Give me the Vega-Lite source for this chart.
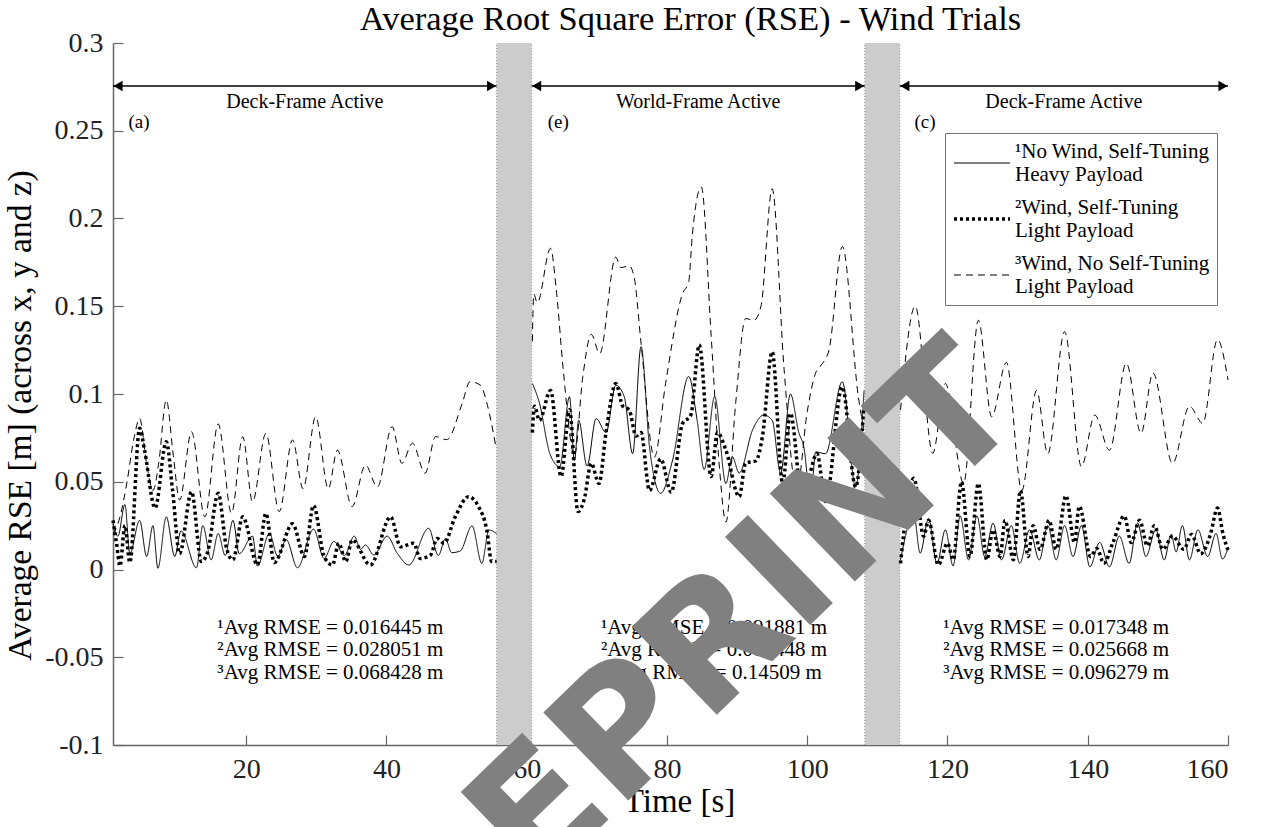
{
  "$schema": "https://vega.github.io/schema/vega-lite/v6.json",
  "width": 1115,
  "height": 702,
  "autosize": {"type": "none"},
  "padding": {"left": 113, "top": 43, "right": 38, "bottom": 82},
  "background": "white",
  "title": {"text": "Average Root Square Error (RSE) - Wind Trials", "font": "Liberation Serif", "fontSize": 34.5, "fontWeight": "normal", "color": "#000", "offset": 0, "dy": 8, "dx": 20},
  "config": {
    "view": {"stroke": null},
    "axis": {"labelFont": "Liberation Serif", "titleFont": "Liberation Serif", "labelFontSize": 28, "titleFontSize": 33, "titleFontWeight": "normal", "labelColor": "#222", "titleColor": "#000", "domainColor": "#666", "tickColor": "#666", "grid": false, "tickSize": -10, "domainWidth": 1.5, "tickWidth": 1.2}
  },
  "datasets": {
    "series": [
      {"t":1.0,"v":0.026,"s":"s1","seg":"a"},{"t":1.7,"v":0.019,"s":"s1","seg":"a"},{"t":2.7,"v":0.037,"s":"s1","seg":"a"},{"t":3.4,"v":0.009,"s":"s1","seg":"a"},{"t":4.8,"v":0.028,"s":"s1","seg":"a"},{"t":5.8,"v":0.0074,"s":"s1","seg":"a"},{"t":6.7,"v":0.025,"s":"s1","seg":"a"},{"t":7.4,"v":0.0007,"s":"s1","seg":"a"},{"t":8.6,"v":0.030,"s":"s1","seg":"a"},{"t":9.8,"v":0.0074,"s":"s1","seg":"a"},{"t":10.7,"v":0.022,"s":"s1","seg":"a"},{"t":12.9,"v":0.001,"s":"s1","seg":"a"},{"t":13.8,"v":0.025,"s":"s1","seg":"a"},{"t":15.0,"v":0.0055,"s":"s1","seg":"a"},{"t":16.0,"v":0.0205,"s":"s1","seg":"a"},{"t":17.0,"v":0.008,"s":"s1","seg":"a"},{"t":18.1,"v":0.028,"s":"s1","seg":"a"},{"t":19.0,"v":0.009,"s":"s1","seg":"a"},{"t":20.9,"v":0.019,"s":"s1","seg":"a"},{"t":21.6,"v":0.002,"s":"s1","seg":"a"},{"t":23.3,"v":0.0205,"s":"s1","seg":"a"},{"t":24.5,"v":0.0074,"s":"s1","seg":"a"},{"t":25.7,"v":0.017,"s":"s1","seg":"a"},{"t":27.3,"v":0.001,"s":"s1","seg":"a"},{"t":29.6,"v":0.023,"s":"s1","seg":"a"},{"t":31.1,"v":0.0063,"s":"s1","seg":"a"},{"t":32.5,"v":0.016,"s":"s1","seg":"a"},{"t":34.0,"v":0.008,"s":"s1","seg":"a"},{"t":35.4,"v":0.019,"s":"s1","seg":"a"},{"t":36.3,"v":0.0115,"s":"s1","seg":"a"},{"t":37.0,"v":0.014,"s":"s1","seg":"a"},{"t":38.2,"v":0.0083,"s":"s1","seg":"a"},{"t":40.1,"v":0.019,"s":"s1","seg":"a"},{"t":41.5,"v":0.0095,"s":"s1","seg":"a"},{"t":43.2,"v":0.0026,"s":"s1","seg":"a"},{"t":46.0,"v":0.0235,"s":"s1","seg":"a"},{"t":47.4,"v":0.008,"s":"s1","seg":"a"},{"t":48.4,"v":0.0176,"s":"s1","seg":"a"},{"t":49.3,"v":0.0096,"s":"s1","seg":"a"},{"t":50.5,"v":0.0105,"s":"s1","seg":"a"},{"t":52.2,"v":0.0248,"s":"s1","seg":"a"},{"t":53.6,"v":0.0035,"s":"s1","seg":"a"},{"t":54.6,"v":0.0225,"s":"s1","seg":"a"},{"t":55.7,"v":0.0205,"s":"s1","seg":"a"},
      {"t":60.8,"v":0.106,"s":"s1","seg":"b"},{"t":61.8,"v":0.095,"s":"s1","seg":"b"},{"t":63.3,"v":0.066,"s":"s1","seg":"b"},{"t":64.7,"v":0.0586,"s":"s1","seg":"b"},{"t":66.1,"v":0.0985,"s":"s1","seg":"b"},{"t":66.8,"v":0.062,"s":"s1","seg":"b"},{"t":67.4,"v":0.085,"s":"s1","seg":"b"},{"t":68.6,"v":0.059,"s":"s1","seg":"b"},{"t":69.9,"v":0.086,"s":"s1","seg":"b"},{"t":71.3,"v":0.078,"s":"s1","seg":"b"},{"t":72.7,"v":0.105,"s":"s1","seg":"b"},{"t":73.9,"v":0.0985,"s":"s1","seg":"b"},{"t":75.1,"v":0.066,"s":"s1","seg":"b"},{"t":76.3,"v":0.127,"s":"s1","seg":"b"},{"t":77.5,"v":0.070,"s":"s1","seg":"b"},{"t":79.1,"v":0.0434,"s":"s1","seg":"b"},{"t":80.8,"v":0.0624,"s":"s1","seg":"b"},{"t":83.1,"v":0.110,"s":"s1","seg":"b"},{"t":84.3,"v":0.085,"s":"s1","seg":"b"},{"t":85.3,"v":0.057,"s":"s1","seg":"b"},{"t":86.8,"v":0.0985,"s":"s1","seg":"b"},{"t":88.4,"v":0.049,"s":"s1","seg":"b"},{"t":89.3,"v":0.0643,"s":"s1","seg":"b"},{"t":90.3,"v":0.055,"s":"s1","seg":"b"},{"t":92.2,"v":0.0795,"s":"s1","seg":"b"},{"t":93.8,"v":0.088,"s":"s1","seg":"b"},{"t":95.0,"v":0.085,"s":"s1","seg":"b"},{"t":96.2,"v":0.055,"s":"s1","seg":"b"},{"t":97.6,"v":0.100,"s":"s1","seg":"b"},{"t":98.8,"v":0.078,"s":"s1","seg":"b"},{"t":99.5,"v":0.070,"s":"s1","seg":"b"},{"t":100.5,"v":0.0405,"s":"s1","seg":"b"},{"t":101.2,"v":0.067,"s":"s1","seg":"b"},{"t":102.6,"v":0.066,"s":"s1","seg":"b"},{"t":105.0,"v":0.107,"s":"s1","seg":"b"},{"t":106.9,"v":0.047,"s":"s1","seg":"b"},{"t":108.1,"v":0.102,"s":"s1","seg":"b"},
      {"t":113.3,"v":0.0055,"s":"s1","seg":"c"},{"t":115.2,"v":0.031,"s":"s1","seg":"c"},{"t":116.1,"v":0.0093,"s":"s1","seg":"c"},{"t":117.3,"v":0.029,"s":"s1","seg":"c"},{"t":118.5,"v":0.0035,"s":"s1","seg":"c"},{"t":119.7,"v":0.0226,"s":"s1","seg":"c"},{"t":120.8,"v":0.002,"s":"s1","seg":"c"},{"t":121.8,"v":0.0305,"s":"s1","seg":"c"},{"t":123.0,"v":0.0055,"s":"s1","seg":"c"},{"t":124.2,"v":0.0305,"s":"s1","seg":"c"},{"t":125.3,"v":0.0074,"s":"s1","seg":"c"},{"t":126.5,"v":0.0264,"s":"s1","seg":"c"},{"t":127.7,"v":0.0055,"s":"s1","seg":"c"},{"t":129.1,"v":0.025,"s":"s1","seg":"c"},{"t":130.3,"v":0.0035,"s":"s1","seg":"c"},{"t":131.7,"v":0.0226,"s":"s1","seg":"c"},{"t":133.1,"v":0.0055,"s":"s1","seg":"c"},{"t":134.3,"v":0.025,"s":"s1","seg":"c"},{"t":135.5,"v":0.0055,"s":"s1","seg":"c"},{"t":136.7,"v":0.025,"s":"s1","seg":"c"},{"t":137.9,"v":0.0074,"s":"s1","seg":"c"},{"t":139.1,"v":0.025,"s":"s1","seg":"c"},{"t":140.3,"v":0.0015,"s":"s1","seg":"c"},{"t":141.7,"v":0.0154,"s":"s1","seg":"c"},{"t":143.1,"v":0.0015,"s":"s1","seg":"c"},{"t":144.5,"v":0.019,"s":"s1","seg":"c"},{"t":145.9,"v":0.0035,"s":"s1","seg":"c"},{"t":147.1,"v":0.0264,"s":"s1","seg":"c"},{"t":148.3,"v":0.0074,"s":"s1","seg":"c"},{"t":149.7,"v":0.0226,"s":"s1","seg":"c"},{"t":150.9,"v":0.0055,"s":"s1","seg":"c"},{"t":151.9,"v":0.02,"s":"s1","seg":"c"},{"t":152.6,"v":0.01,"s":"s1","seg":"c"},{"t":153.5,"v":0.025,"s":"s1","seg":"c"},{"t":154.5,"v":0.0055,"s":"s1","seg":"c"},{"t":155.7,"v":0.0226,"s":"s1","seg":"c"},{"t":157.1,"v":0.0074,"s":"s1","seg":"c"},{"t":158.3,"v":0.0205,"s":"s1","seg":"c"},{"t":159.2,"v":0.006,"s":"s1","seg":"c"},{"t":160.0,"v":0.012,"s":"s1","seg":"c"},

      {"t":1.0,"v":0.028,"s":"s2","seg":"a"},{"t":1.5,"v":0.015,"s":"s2","seg":"a"},{"t":2.0,"v":0.002,"s":"s2","seg":"a"},{"t":2.7,"v":0.025,"s":"s2","seg":"a"},{"t":3.4,"v":0.004,"s":"s2","seg":"a"},{"t":4.8,"v":0.0805,"s":"s2","seg":"a"},{"t":5.5,"v":0.068,"s":"s2","seg":"a"},{"t":7.0,"v":0.035,"s":"s2","seg":"a"},{"t":8.6,"v":0.0728,"s":"s2","seg":"a"},{"t":9.5,"v":0.045,"s":"s2","seg":"a"},{"t":10.5,"v":0.009,"s":"s2","seg":"a"},{"t":12.2,"v":0.0443,"s":"s2","seg":"a"},{"t":13.6,"v":0.0045,"s":"s2","seg":"a"},{"t":14.5,"v":0.01,"s":"s2","seg":"a"},{"t":16.0,"v":0.0434,"s":"s2","seg":"a"},{"t":17.2,"v":0.012,"s":"s2","seg":"a"},{"t":18.1,"v":0.0055,"s":"s2","seg":"a"},{"t":19.5,"v":0.030,"s":"s2","seg":"a"},{"t":21.6,"v":0.0026,"s":"s2","seg":"a"},{"t":22.8,"v":0.032,"s":"s2","seg":"a"},{"t":24.0,"v":0.004,"s":"s2","seg":"a"},{"t":26.6,"v":0.026,"s":"s2","seg":"a"},{"t":28.3,"v":0.0074,"s":"s2","seg":"a"},{"t":29.6,"v":0.0365,"s":"s2","seg":"a"},{"t":31.1,"v":0.0074,"s":"s2","seg":"a"},{"t":32.3,"v":0.0026,"s":"s2","seg":"a"},{"t":33.2,"v":0.015,"s":"s2","seg":"a"},{"t":34.2,"v":0.0045,"s":"s2","seg":"a"},{"t":35.1,"v":0.0168,"s":"s2","seg":"a"},{"t":37.7,"v":0.0026,"s":"s2","seg":"a"},{"t":40.6,"v":0.030,"s":"s2","seg":"a"},{"t":42.0,"v":0.013,"s":"s2","seg":"a"},{"t":43.9,"v":0.015,"s":"s2","seg":"a"},{"t":44.8,"v":0.0063,"s":"s2","seg":"a"},{"t":46.3,"v":0.0083,"s":"s2","seg":"a"},{"t":47.2,"v":0.0176,"s":"s2","seg":"a"},{"t":48.2,"v":0.015,"s":"s2","seg":"a"},{"t":49.8,"v":0.030,"s":"s2","seg":"a"},{"t":51.7,"v":0.0415,"s":"s2","seg":"a"},{"t":53.1,"v":0.036,"s":"s2","seg":"a"},{"t":54.3,"v":0.0226,"s":"s2","seg":"a"},{"t":55.0,"v":0.0045,"s":"s2","seg":"a"},{"t":55.7,"v":0.0045,"s":"s2","seg":"a"},
      {"t":60.8,"v":0.078,"s":"s2","seg":"b"},{"t":61.1,"v":0.093,"s":"s2","seg":"b"},{"t":61.8,"v":0.085,"s":"s2","seg":"b"},{"t":63.4,"v":0.102,"s":"s2","seg":"b"},{"t":64.9,"v":0.053,"s":"s2","seg":"b"},{"t":66.1,"v":0.091,"s":"s2","seg":"b"},{"t":67.3,"v":0.033,"s":"s2","seg":"b"},{"t":68.2,"v":0.040,"s":"s2","seg":"b"},{"t":69.2,"v":0.0605,"s":"s2","seg":"b"},{"t":70.3,"v":0.049,"s":"s2","seg":"b"},{"t":71.3,"v":0.078,"s":"s2","seg":"b"},{"t":72.7,"v":0.106,"s":"s2","seg":"b"},{"t":73.7,"v":0.093,"s":"s2","seg":"b"},{"t":74.6,"v":0.091,"s":"s2","seg":"b"},{"t":75.6,"v":0.076,"s":"s2","seg":"b"},{"t":76.3,"v":0.078,"s":"s2","seg":"b"},{"t":77.5,"v":0.045,"s":"s2","seg":"b"},{"t":79.1,"v":0.063,"s":"s2","seg":"b"},{"t":80.6,"v":0.044,"s":"s2","seg":"b"},{"t":82.2,"v":0.083,"s":"s2","seg":"b"},{"t":83.4,"v":0.088,"s":"s2","seg":"b"},{"t":84.6,"v":0.128,"s":"s2","seg":"b"},{"t":86.3,"v":0.053,"s":"s2","seg":"b"},{"t":87.2,"v":0.078,"s":"s2","seg":"b"},{"t":88.4,"v":0.068,"s":"s2","seg":"b"},{"t":90.3,"v":0.0415,"s":"s2","seg":"b"},{"t":91.2,"v":0.0605,"s":"s2","seg":"b"},{"t":92.7,"v":0.062,"s":"s2","seg":"b"},{"t":93.6,"v":0.0755,"s":"s2","seg":"b"},{"t":95.0,"v":0.124,"s":"s2","seg":"b"},{"t":96.5,"v":0.049,"s":"s2","seg":"b"},{"t":97.6,"v":0.089,"s":"s2","seg":"b"},{"t":99.3,"v":0.0405,"s":"s2","seg":"b"},{"t":101.4,"v":0.066,"s":"s2","seg":"b"},{"t":102.6,"v":0.0387,"s":"s2","seg":"b"},{"t":105.0,"v":0.104,"s":"s2","seg":"b"},{"t":106.9,"v":0.047,"s":"s2","seg":"b"},{"t":108.1,"v":0.095,"s":"s2","seg":"b"},
      {"t":113.3,"v":0.0035,"s":"s2","seg":"c"},{"t":115.2,"v":0.052,"s":"s2","seg":"c"},{"t":116.6,"v":0.019,"s":"s2","seg":"c"},{"t":117.3,"v":0.028,"s":"s2","seg":"c"},{"t":118.7,"v":0.0026,"s":"s2","seg":"c"},{"t":120.0,"v":0.015,"s":"s2","seg":"c"},{"t":120.8,"v":0.0055,"s":"s2","seg":"c"},{"t":122.0,"v":0.050,"s":"s2","seg":"c"},{"t":123.2,"v":0.0074,"s":"s2","seg":"c"},{"t":124.4,"v":0.049,"s":"s2","seg":"c"},{"t":125.6,"v":0.0055,"s":"s2","seg":"c"},{"t":126.5,"v":0.0226,"s":"s2","seg":"c"},{"t":127.5,"v":0.0074,"s":"s2","seg":"c"},{"t":128.2,"v":0.028,"s":"s2","seg":"c"},{"t":129.4,"v":0.0055,"s":"s2","seg":"c"},{"t":130.4,"v":0.045,"s":"s2","seg":"c"},{"t":131.5,"v":0.0074,"s":"s2","seg":"c"},{"t":132.2,"v":0.025,"s":"s2","seg":"c"},{"t":133.2,"v":0.0115,"s":"s2","seg":"c"},{"t":134.5,"v":0.028,"s":"s2","seg":"c"},{"t":135.5,"v":0.0115,"s":"s2","seg":"c"},{"t":136.9,"v":0.042,"s":"s2","seg":"c"},{"t":138.1,"v":0.0154,"s":"s2","seg":"c"},{"t":138.8,"v":0.036,"s":"s2","seg":"c"},{"t":140.4,"v":0.0074,"s":"s2","seg":"c"},{"t":141.3,"v":0.012,"s":"s2","seg":"c"},{"t":142.3,"v":0.0035,"s":"s2","seg":"c"},{"t":143.6,"v":0.0154,"s":"s2","seg":"c"},{"t":145.2,"v":0.0305,"s":"s2","seg":"c"},{"t":146.2,"v":0.0154,"s":"s2","seg":"c"},{"t":147.4,"v":0.028,"s":"s2","seg":"c"},{"t":148.5,"v":0.0135,"s":"s2","seg":"c"},{"t":149.5,"v":0.025,"s":"s2","seg":"c"},{"t":150.7,"v":0.0115,"s":"s2","seg":"c"},{"t":152.1,"v":0.019,"s":"s2","seg":"c"},{"t":153.7,"v":0.0115,"s":"s2","seg":"c"},{"t":154.8,"v":0.02,"s":"s2","seg":"c"},{"t":156.1,"v":0.009,"s":"s2","seg":"c"},{"t":157.5,"v":0.02,"s":"s2","seg":"c"},{"t":158.5,"v":0.035,"s":"s2","seg":"c"},{"t":159.3,"v":0.02,"s":"s2","seg":"c"},{"t":160.0,"v":0.011,"s":"s2","seg":"c"},

      {"t":1.0,"v":0.02,"s":"s3","seg":"a"},{"t":2.0,"v":0.03,"s":"s3","seg":"a"},{"t":3.0,"v":0.05,"s":"s3","seg":"a"},{"t":4.0,"v":0.075,"s":"s3","seg":"a"},{"t":4.8,"v":0.086,"s":"s3","seg":"a"},{"t":5.8,"v":0.06,"s":"s3","seg":"a"},{"t":6.7,"v":0.045,"s":"s3","seg":"a"},{"t":7.5,"v":0.06,"s":"s3","seg":"a"},{"t":8.6,"v":0.0966,"s":"s3","seg":"a"},{"t":9.6,"v":0.065,"s":"s3","seg":"a"},{"t":10.5,"v":0.0396,"s":"s3","seg":"a"},{"t":12.2,"v":0.0785,"s":"s3","seg":"a"},{"t":14.1,"v":0.030,"s":"s3","seg":"a"},{"t":16.0,"v":0.083,"s":"s3","seg":"a"},{"t":17.9,"v":0.032,"s":"s3","seg":"a"},{"t":19.5,"v":0.0757,"s":"s3","seg":"a"},{"t":20.9,"v":0.0386,"s":"s3","seg":"a"},{"t":22.8,"v":0.0776,"s":"s3","seg":"a"},{"t":24.7,"v":0.033,"s":"s3","seg":"a"},{"t":26.6,"v":0.0738,"s":"s3","seg":"a"},{"t":28.1,"v":0.046,"s":"s3","seg":"a"},{"t":29.9,"v":0.0871,"s":"s3","seg":"a"},{"t":31.7,"v":0.046,"s":"s3","seg":"a"},{"t":33.0,"v":0.068,"s":"s3","seg":"a"},{"t":35.1,"v":0.0358,"s":"s3","seg":"a"},{"t":37.0,"v":0.0595,"s":"s3","seg":"a"},{"t":38.7,"v":0.047,"s":"s3","seg":"a"},{"t":40.8,"v":0.0814,"s":"s3","seg":"a"},{"t":42.2,"v":0.0605,"s":"s3","seg":"a"},{"t":43.7,"v":0.072,"s":"s3","seg":"a"},{"t":45.5,"v":0.0548,"s":"s3","seg":"a"},{"t":47.0,"v":0.0757,"s":"s3","seg":"a"},{"t":48.6,"v":0.074,"s":"s3","seg":"a"},{"t":50.8,"v":0.0947,"s":"s3","seg":"a"},{"t":51.9,"v":0.107,"s":"s3","seg":"a"},{"t":53.4,"v":0.105,"s":"s3","seg":"a"},{"t":54.3,"v":0.095,"s":"s3","seg":"a"},{"t":55.6,"v":0.070,"s":"s3","seg":"a"},
      {"t":60.8,"v":0.13,"s":"s3","seg":"b"},{"t":61.0,"v":0.157,"s":"s3","seg":"b"},{"t":61.5,"v":0.152,"s":"s3","seg":"b"},{"t":63.4,"v":0.183,"s":"s3","seg":"b"},{"t":64.2,"v":0.16,"s":"s3","seg":"b"},{"t":65.2,"v":0.114,"s":"s3","seg":"b"},{"t":66.8,"v":0.065,"s":"s3","seg":"b"},{"t":68.0,"v":0.11,"s":"s3","seg":"b"},{"t":69.2,"v":0.134,"s":"s3","seg":"b"},{"t":70.4,"v":0.123,"s":"s3","seg":"b"},{"t":72.7,"v":0.178,"s":"s3","seg":"b"},{"t":73.4,"v":0.172,"s":"s3","seg":"b"},{"t":74.6,"v":0.173,"s":"s3","seg":"b"},{"t":75.3,"v":0.167,"s":"s3","seg":"b"},{"t":76.3,"v":0.129,"s":"s3","seg":"b"},{"t":78.2,"v":0.064,"s":"s3","seg":"b"},{"t":79.8,"v":0.106,"s":"s3","seg":"b"},{"t":82.2,"v":0.157,"s":"s3","seg":"b"},{"t":83.1,"v":0.164,"s":"s3","seg":"b"},{"t":83.6,"v":0.19,"s":"s3","seg":"b"},{"t":84.9,"v":0.218,"s":"s3","seg":"b"},{"t":86.3,"v":0.133,"s":"s3","seg":"b"},{"t":87.5,"v":0.057,"s":"s3","seg":"b"},{"t":88.4,"v":0.027,"s":"s3","seg":"b"},{"t":89.8,"v":0.095,"s":"s3","seg":"b"},{"t":91.2,"v":0.143,"s":"s3","seg":"b"},{"t":92.4,"v":0.142,"s":"s3","seg":"b"},{"t":93.4,"v":0.15,"s":"s3","seg":"b"},{"t":95.0,"v":0.217,"s":"s3","seg":"b"},{"t":96.7,"v":0.114,"s":"s3","seg":"b"},{"t":98.5,"v":0.045,"s":"s3","seg":"b"},{"t":100.0,"v":0.09,"s":"s3","seg":"b"},{"t":101.2,"v":0.112,"s":"s3","seg":"b"},{"t":101.9,"v":0.116,"s":"s3","seg":"b"},{"t":103.1,"v":0.125,"s":"s3","seg":"b"},{"t":105.0,"v":0.184,"s":"s3","seg":"b"},{"t":107.3,"v":0.098,"s":"s3","seg":"b"},{"t":108.1,"v":0.079,"s":"s3","seg":"b"},
      {"t":113.3,"v":0.091,"s":"s3","seg":"c"},{"t":115.4,"v":0.150,"s":"s3","seg":"c"},{"t":117.9,"v":0.0662,"s":"s3","seg":"c"},{"t":119.7,"v":0.106,"s":"s3","seg":"c"},{"t":122.3,"v":0.049,"s":"s3","seg":"c"},{"t":124.4,"v":0.142,"s":"s3","seg":"c"},{"t":126.3,"v":0.087,"s":"s3","seg":"c"},{"t":128.4,"v":0.118,"s":"s3","seg":"c"},{"t":130.6,"v":0.045,"s":"s3","seg":"c"},{"t":132.7,"v":0.102,"s":"s3","seg":"c"},{"t":134.3,"v":0.066,"s":"s3","seg":"c"},{"t":136.7,"v":0.1355,"s":"s3","seg":"c"},{"t":139.1,"v":0.0586,"s":"s3","seg":"c"},{"t":141.0,"v":0.088,"s":"s3","seg":"c"},{"t":143.1,"v":0.068,"s":"s3","seg":"c"},{"t":145.5,"v":0.1175,"s":"s3","seg":"c"},{"t":147.6,"v":0.0776,"s":"s3","seg":"c"},{"t":149.3,"v":0.112,"s":"s3","seg":"c"},{"t":152.1,"v":0.0605,"s":"s3","seg":"c"},{"t":154.5,"v":0.093,"s":"s3","seg":"c"},{"t":156.4,"v":0.0833,"s":"s3","seg":"c"},{"t":158.5,"v":0.131,"s":"s3","seg":"c"},{"t":160.0,"v":0.108,"s":"s3","seg":"c"}
    ],
    "bands": [{"x0": 55.7, "x1": 60.7}, {"x0": 108.2, "x1": 113.2}],
    "arrows": [
      {"x0": 1, "x1": 55.7, "xm": 28.35, "label": "Deck-Frame Active"},
      {"x0": 60.7, "x1": 108.2, "xm": 84.45, "label": "World-Frame Active"},
      {"x0": 113.2, "x1": 160, "xm": 136.6, "label": "Deck-Frame Active"}
    ],
    "tags": [{"t": 4.7, "label": "(a)"}, {"t": 64.5, "label": "(e)"}, {"t": 116.8, "label": "(c)"}],
    "stats": [
      {"t": 32, "v": -0.0333, "label": "¹Avg RMSE = 0.016445 m"},
      {"t": 32, "v": -0.0459, "label": "²Avg RMSE = 0.028051 m"},
      {"t": 32, "v": -0.059, "label": "³Avg RMSE = 0.068428 m"},
      {"t": 86.7, "v": -0.0333, "label": "¹Avg RMSE = 0.091881 m"},
      {"t": 86.7, "v": -0.0459, "label": "²Avg RMSE = 0.086448 m"},
      {"t": 86.7, "v": -0.059, "label": "³Avg RMSE = 0.14509 m"},
      {"t": 135.5, "v": -0.0333, "label": "¹Avg RMSE = 0.017348 m"},
      {"t": 135.5, "v": -0.0459, "label": "²Avg RMSE = 0.025668 m"},
      {"t": 135.5, "v": -0.059, "label": "³Avg RMSE = 0.096279 m"}
    ],
    "watermark": [{"t": 131.4, "v": 0.088, "label": "PREPRINT"}]
  },
  "encoding": {
    "x": {"type": "quantitative", "scale": {"domain": [1, 160], "nice": false, "zero": false},
      "axis": {"title": "Time [s]", "values": [20, 40, 60, 80, 100, 120, 140, 160], "labelPadding": 20, "titlePadding": 2, "titleX": 566}},
    "y": {"type": "quantitative", "scale": {"domain": [-0.1, 0.3], "nice": false, "zero": false},
      "axis": {"title": "Average RSE [m] (across x, y and z)", "titleFontSize": 33.5, "values": [-0.1, -0.05, 0, 0.05, 0.1, 0.15, 0.2, 0.25, 0.3], "labelPadding": 20, "titlePadding": 7, "titleY": 372,
        "labelExpr": "datum.value == 0 ? '0' : (datum.value < 0 ? '-' + toString(abs(round(datum.value*100)/100)) : toString(round(datum.value*100)/100))"}}
  },
  "layer": [
    {"data": {"name": "bands"}, "mark": {"type": "rect", "fill": "#cccccc"},
     "encoding": {"x": {"field": "x0"}, "x2": {"field": "x1"}, "y": {"datum": -0.1}, "y2": {"datum": 0.3}}},
    {"data": {"name": "bands"}, "transform": [{"fold": ["x0", "x1"], "as": ["edge", "xe"]}],
     "mark": {"type": "rule", "stroke": "#999", "strokeDash": [1, 2], "strokeWidth": 1},
     "encoding": {"x": {"field": "xe"}, "y": {"datum": -0.1}, "y2": {"datum": 0.3}}},
    {"mark": {"type": "rule", "stroke": "#999", "strokeDash": [1, 3], "strokeWidth": 1},
     "encoding": {"x": {"datum": 1}, "x2": {"datum": 160}, "y": {"datum": 0}}},
    {"data": {"name": "series"}, "mark": {"type": "line", "interpolate": "monotone", "color": "black", "strokeCap": "butt"},
     "encoding": {
       "x": {"field": "t"}, "y": {"field": "v"}, "detail": {"field": "seg"},
       "strokeDash": {"field": "s", "type": "nominal", "scale": {"domain": ["s1", "s2", "s3"], "range": [[1, 0], [3, 3], [7, 5]]},
         "legend": {"title": null, "orient": "none", "legendX": 832, "legendY": 90, "symbolType": "stroke", "symbolSize": 3136, "symbolStrokeColor": "black",
           "labelFont": "Liberation Serif", "labelFontSize": 21, "labelColor": "#000", "labelLimit": 400, "labelOffset": 3, "labelBaseline": "middle",
           "strokeColor": "#777", "fillColor": "white", "padding": 7, "rowPadding": 10, "clipHeight": 46,
           "encode": {"labels": {"update": {"lineHeight": {"value": 23}, "dy": {"value": -11.5}}}},
           "labelExpr": "datum.value == 's1' ? ['¹No Wind, Self-Tuning', 'Heavy Payload'] : datum.value == 's2' ? ['²Wind, Self-Tuning', 'Light Payload'] : ['³Wind, No Self-Tuning', 'Light Payload']"}},
       "strokeWidth": {"field": "s", "type": "nominal", "scale": {"type": "ordinal", "domain": ["s1", "s2", "s3"], "range": [1, 3.5, 1]}, "legend": null}
     }},
    {"data": {"name": "arrows"}, "mark": {"type": "rule", "stroke": "black", "strokeWidth": 1.3},
     "encoding": {"x": {"field": "x0"}, "x2": {"field": "x1"}, "y": {"datum": 0.2755}}},
    {"data": {"name": "arrows"}, "mark": {"type": "point", "shape": "triangle-left", "filled": true, "color": "black", "size": 110, "opacity": 1, "xOffset": 5},
     "encoding": {"x": {"field": "x0"}, "y": {"datum": 0.2755}}},
    {"data": {"name": "arrows"}, "mark": {"type": "point", "shape": "triangle-right", "filled": true, "color": "black", "size": 110, "opacity": 1, "xOffset": -5},
     "encoding": {"x": {"field": "x1"}, "y": {"datum": 0.2755}}},
    {"data": {"name": "arrows"}, "mark": {"type": "text", "font": "Liberation Serif", "fontSize": 20, "color": "black", "baseline": "middle"},
     "encoding": {"x": {"field": "xm"}, "y": {"datum": 0.2665}, "text": {"field": "label"}}},
    {"data": {"name": "tags"}, "mark": {"type": "text", "font": "Liberation Serif", "fontSize": 19, "color": "black", "baseline": "middle"},
     "encoding": {"x": {"field": "t"}, "y": {"datum": 0.255}, "text": {"field": "label"}}},
    {"data": {"name": "stats"}, "mark": {"type": "text", "font": "Liberation Serif", "fontSize": 21, "color": "black", "baseline": "middle"},
     "encoding": {"x": {"field": "t"}, "y": {"field": "v"}, "text": {"field": "label"}}},
    {"data": {"name": "watermark"}, "mark": {"type": "text", "font": "DejaVu Sans", "fontWeight": "bold", "fontSize": 168, "fill": "#808080", "align": "right", "baseline": "alphabetic", "angle": -44},
     "encoding": {"x": {"field": "t"}, "y": {"field": "v"}, "text": {"field": "label"}}}
  ]
}
